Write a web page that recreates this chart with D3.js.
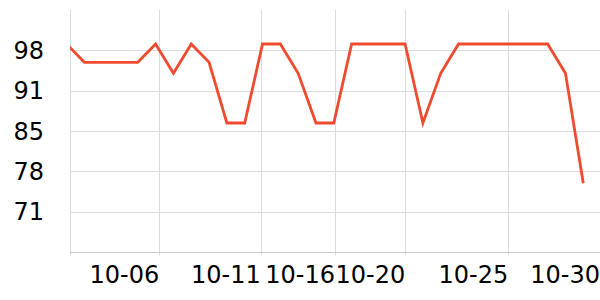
<!DOCTYPE html>
<html>
<head>
<meta charset="utf-8">
<script src="https://cdn.jsdelivr.net/npm/d3@7"></script>
<style>
body { margin: 0; background: #fff; }
text { font-family: "DejaVu Sans", sans-serif; }
</style>
</head>
<body>
<div id="chart"></div>
<script>
// daily values, 10-01 .. 10-30
var days = ["2023-10-01", "2023-10-02", "2023-10-03", "2023-10-04", "2023-10-05",
    "2023-10-06", "2023-10-07", "2023-10-08", "2023-10-09", "2023-10-10",
    "2023-10-11", "2023-10-12", "2023-10-13", "2023-10-14", "2023-10-15",
    "2023-10-16", "2023-10-17", "2023-10-18", "2023-10-19", "2023-10-20",
    "2023-10-21", "2023-10-22", "2023-10-23", "2023-10-24", "2023-10-25",
    "2023-10-26", "2023-10-27", "2023-10-28", "2023-10-29", "2023-10-30"];
var values = [99.56, 96.5, 96.5, 96.5, 96.5,
    99.56, 94.66, 99.56, 96.5, 86.34,
    86.34, 99.56, 99.56, 94.66, 86.34,
    86.34, 99.56, 99.56, 99.56, 99.56,
    86.34, 94.66, 99.56, 99.56, 99.56,
    99.56, 99.56, 99.56, 94.66, 76.25];

var xDomain = ["2023-10-01T04:43", "2023-10-30T22:31"];
var xTicks = ["2023-10-06T05:00", "2023-10-11T21:33", "2023-10-16T01:36",
    "2023-10-20T00:17", "2023-10-25T19:01", "2023-10-30T22:31"];
var yDomain = [64.75, 105.25];
var yTicks = [98.5, 91.75, 85, 78.25, 71.5];
var yTickLabels = ["98", "91", "85", "78", "71"];

var svgWidth = 600;
var svgHeight = 300;
var margin = { top: 10, right: 0, bottom: 48, left: 70 };
var width = svgWidth - margin.left - margin.right;
var height = svgHeight - margin.top - margin.bottom;

var parseDay = d3.timeParse("%Y-%m-%d");
var parseTime = d3.timeParse("%Y-%m-%dT%H:%M");
var fmt = d3.timeFormat("%m-%d");

var svg = d3.select("#chart")
    .append("svg")
    .attr("width", svgWidth)
    .attr("height", svgHeight);

var chartGroup = svg.append("g")
    .attr("transform", `translate(${margin.left}, ${margin.top})`);

var xScale = d3.scaleTime()
    .domain(xDomain.map(parseTime))
    .range([0, width]);

var yScale = d3.scaleLinear()
    .domain(yDomain)
    .range([height, 0]);

// horizontal grid
chartGroup.selectAll(".hgrid")
    .data(yTicks)
    .enter()
    .append("line")
    .attr("x1", 0)
    .attr("x2", width)
    .attr("y1", d => Math.round(yScale(d)) + 0.5)
    .attr("y2", d => Math.round(yScale(d)) + 0.5)
    .attr("stroke", "#dcdcdc")
    .attr("stroke-width", 1);

// vertical grid (left edge + ticks)
var xGridVals = [xScale.domain()[0]].concat(xTicks.map(parseTime));
chartGroup.selectAll(".vgrid")
    .data(xGridVals)
    .enter()
    .append("line")
    .attr("x1", d => Math.round(xScale(d)) + 0.5)
    .attr("x2", d => Math.round(xScale(d)) + 0.5)
    .attr("y1", 0)
    .attr("y2", height + 3.5)
    .attr("stroke", "#dcdcdc")
    .attr("stroke-width", 1);

// x axis line
chartGroup.append("line")
    .attr("x1", 0)
    .attr("x2", width)
    .attr("y1", height + 0.5)
    .attr("y2", height + 0.5)
    .attr("stroke", "#c8c8c8");

// y labels
chartGroup.selectAll(".ylabel")
    .data(yTicks)
    .enter()
    .append("text")
    .attr("x", -26)
    .attr("y", d => yScale(d))
    .attr("dy", "0.36em")
    .attr("text-anchor", "end")
    .attr("font-size", 24)
    .attr("fill", "#000")
    .text((d, i) => yTickLabels[i]);

// x labels, right-aligned at tick
chartGroup.selectAll(".xlabel")
    .data(xTicks.map(parseTime))
    .enter()
    .append("text")
    .attr("x", d => xScale(d))
    .attr("y", height + 30.5)
    .attr("text-anchor", "end")
    .attr("font-size", 24)
    .attr("fill", "#000")
    .text(d => fmt(d));

svg.append("clipPath")
    .attr("id", "clip")
    .append("rect")
    .attr("x", 0)
    .attr("y", -10)
    .attr("width", width)
    .attr("height", height + 20);

var data = days.map((d, i) => ({ date: parseDay(d), value: values[i] }));

var line = d3.line()
    .x(d => xScale(d.date))
    .y(d => yScale(d.value));

chartGroup.append("path")
    .datum(data)
    .attr("clip-path", "url(#clip)")
    .attr("fill", "none")
    .attr("stroke", "#ef4b2e")
    .attr("stroke-width", 2.8)
    .attr("stroke-linejoin", "miter")
    .attr("d", line);
</script>
</body>
</html>
